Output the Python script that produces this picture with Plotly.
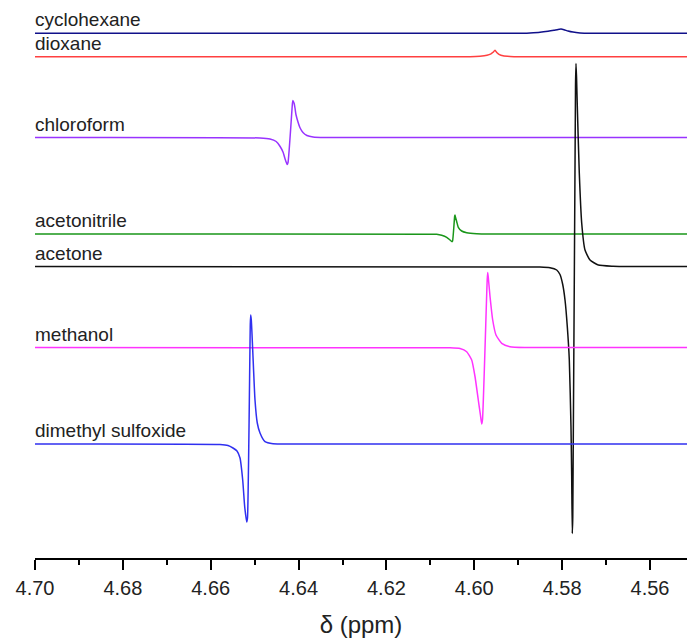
import plotly.graph_objects as go

# ---------------- data (chemical shift in ppm, intensity in arbitrary units) ----------------
solvents = ["cyclohexane", "dioxane", "chloroform", "acetonitrile",
            "acetone", "methanol", "dimethyl sulfoxide"]

cyclohexane_ppm = [4.70, 4.58959, 4.58732, 4.58504, 4.58322, 4.58186, 4.58094, 4.58026,
                   4.57958, 4.57867, 4.57753, 4.57594, 4.57366, 4.55]
cyclohexane_int = [0, 0, 0.4, 1.0, 2.0, 3.0, 3.8, 4.2, 3.6, 2.3, 1.2, 0.4, 0, 0]

dioxane_ppm = [4.70, 4.60098, 4.59870, 4.59711, 4.59620, 4.59574, 4.59529, 4.59483,
               4.59438, 4.59346, 4.59187, 4.58959, 4.55]
dioxane_int = [0, 0, 0.5, 1.5, 3.0, 4.5, 6.5, 4.0, 2.5, 1.0, 0.3, 0, 0]

chloroform_ppm = [4.70, 4.6488, 4.6465, 4.6451, 4.6442, 4.6435, 4.6431, 4.6426, 4.6424,
                  4.6414, 4.6413, 4.6410, 4.6408, 4.6406, 4.6401, 4.6397, 4.6390,
                  4.6381, 4.6367, 4.6340, 4.55]
chloroform_int = [0, -0.5, -1.5, -4, -9, -15, -21, -27, -25,
                  34, 37, 34, 29, 23, 15, 10, 5, 2, 0.5, 0, 0]

acetonitrile_ppm = [4.70, 4.61008, 4.60856, 4.60742, 4.60628, 4.60553, 4.60507, 4.60494,
                    4.60446, 4.60439, 4.60430, 4.60400, 4.60364, 4.60287, 4.60173,
                    4.59945, 4.59642, 4.55]
acetonitrile_int = [0, -0.2, -0.3, -1.3, -3.3, -6.0, -7.7, -7.0,
                    18, 19, 17, 12.3, 6.7, 3.0, 1.3, 0.3, 0, 0]

acetone_ppm = [4.70, 4.58504, 4.58277, 4.58124, 4.58049, 4.57987, 4.57935, 4.57883,
               4.57837, 4.57799, 4.57783, 4.57769, 4.57758, 4.57696, 4.57685, 4.57673,
               4.57655, 4.57610, 4.57555, 4.57480, 4.57366, 4.57177, 4.56842, 4.56455, 4.55]
acetone_int = [0, -0.5, -1.2, -3.5, -8, -18, -33.5, -60, -93.5, -160, -210, -267, -250,
               180, 203, 190, 160, 93.5, 43.5, 16.5, 6.5, 1.5, 0.3, 0, 0]

methanol_ppm = [4.70, 4.60553, 4.60325, 4.60173, 4.60059, 4.59984, 4.59909, 4.59859,
                4.59831, 4.59813, 4.59706, 4.59695, 4.59681, 4.59642, 4.59581, 4.59506,
                4.59376, 4.59187, 4.58846, 4.55]
methanol_int = [0, -0.3, -1.0, -4.2, -12.5, -29, -52.5, -68, -76.5, -72,
                68, 75, 70, 51, 27.5, 12.5, 4.2, 0.8, 0, 0]

dmso_ppm = [4.70, 4.65789, 4.65607, 4.65493, 4.65402, 4.65333, 4.65272, 4.65226, 4.65181,
            4.65163, 4.65099, 4.65090, 4.65076, 4.65044, 4.64992, 4.64940, 4.64878,
            4.64764, 4.64582, 4.64195, 4.55]
dmso_int = [0, -0.5, -1.5, -4, -7, -14, -36, -63, -78, -74,
            120, 129, 124, 94, 44, 21, 11, 2.3, 0.3, 0, 0]

tick_values = [4.70, 4.68, 4.66, 4.64, 4.62, 4.60, 4.58, 4.56]
tick_labels = ["4.70", "4.68", "4.66", "4.64", "4.62", "4.60", "4.58", "4.56"]

# ---------------- styling / stacking ----------------
spectra = {
    "cyclohexane": (cyclohexane_ppm, cyclohexane_int),
    "dioxane": (dioxane_ppm, dioxane_int),
    "chloroform": (chloroform_ppm, chloroform_int),
    "acetonitrile": (acetonitrile_ppm, acetonitrile_int),
    "acetone": (acetone_ppm, acetone_int),
    "methanol": (methanol_ppm, methanol_int),
    "dimethyl sulfoxide": (dmso_ppm, dmso_int),
}
stack_offset = {
    "cyclohexane": 524.7, "dioxane": 501.2, "chloroform": 420.5,
    "acetonitrile": 324.0, "acetone": 291.5, "methanol": 210.5,
    "dimethyl sulfoxide": 114.0,
}
colors = {
    "cyclohexane": "#10108a", "dioxane": "#ff4040", "chloroform": "#9933ff",
    "acetonitrile": "#1a961a", "acetone": "#111111", "methanol": "#ff33ff",
    "dimethyl sulfoxide": "#3030f0",
}

FONT = "Liberation Sans, Arial, sans-serif"

fig = go.Figure()
annotations = []
for name in solvents:
    ppm, inten = spectra[name]
    off = stack_offset[name]
    fig.add_trace(go.Scatter(
        x=ppm, y=[v + off for v in inten], mode="lines",
        line=dict(color=colors[name], width=1.5, shape="spline", smoothing=0.5),
        name=name, hoverinfo="skip", showlegend=False,
    ))
    annotations.append(dict(
        x=0, xref="paper", xanchor="left", xshift=-2,
        y=off, yref="y", yanchor="bottom", yshift=1,
        text=name, showarrow=False,
        font=dict(family=FONT, size=19, color="#222222"),
    ))

fig.update_layout(
    width=687, height=643,
    margin=dict(l=35, r=0, t=0, b=85),
    paper_bgcolor="white", plot_bgcolor="white",
    annotations=annotations,
    xaxis=dict(
        range=[4.70, 4.55158], autorange=False,
        tickvals=tick_values, ticktext=tick_labels,
        ticks="outside", ticklen=10, tickwidth=1.5, tickcolor="black",
        showline=True, linecolor="black", linewidth=1.5,
        showgrid=False, zeroline=False,
        tickfont=dict(family=FONT, size=20, color="#222222"),
        ticklabelstandoff=1,
        minor=dict(dtick=0.01, tick0=4.70, ticks="outside", ticklen=5,
                   tickwidth=1.5, tickcolor="black", showgrid=False),
        title=dict(text="δ (ppm)", font=dict(family=FONT, size=24, color="#222222"),
                   standoff=18),
    ),
    yaxis=dict(range=[0, 558], autorange=False, visible=False,
               showgrid=False, zeroline=False),
)

fig.write_html("out.html")
